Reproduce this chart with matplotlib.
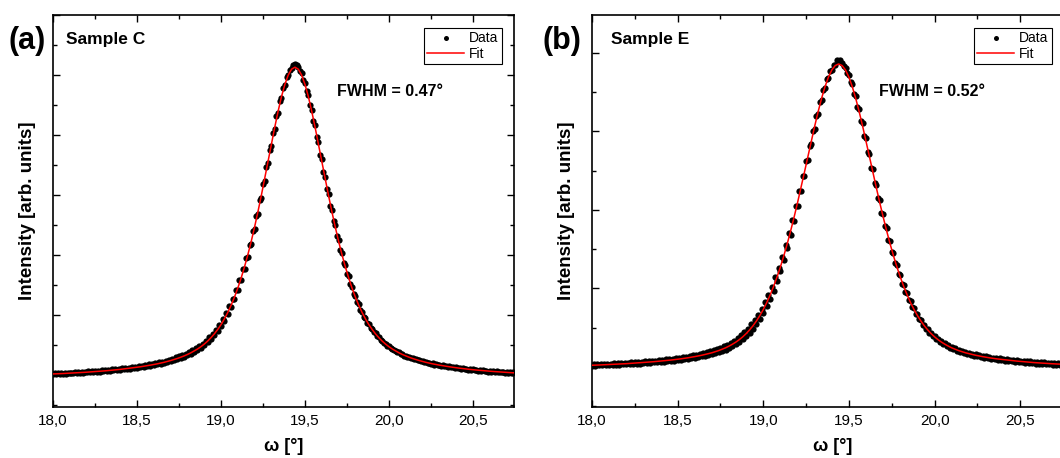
import numpy as np
import matplotlib.pyplot as plt
from matplotlib.ticker import MultipleLocator, FuncFormatter

plt.rcParams['font.family'] = ['Liberation Sans', 'DejaVu Sans']

# omega scan grids [deg]: measured points and fitted curve
omega = np.round(np.arange(18.0, 20.745, 0.01), 2)
omega_fit = np.round(np.arange(18.0, 20.745, 0.02), 2)

# Sample C, measured intensity (arb. units)
data_c = [
    0.010, 0.027, 0.016, 0.030, 0.019, 0.034, 0.021, 0.036, 0.024, 0.040,
    0.027, 0.041, 0.030, 0.046, 0.033, 0.049, 0.036, 0.051, 0.039, 0.056,
    0.042, 0.060, 0.046, 0.063, 0.050, 0.068, 0.054, 0.072, 0.058, 0.077,
    0.062, 0.082, 0.066, 0.087, 0.071, 0.093, 0.076, 0.098, 0.081, 0.104,
    0.087, 0.110, 0.094, 0.117, 0.100, 0.124, 0.107, 0.132, 0.114, 0.140,
    0.121, 0.149, 0.129, 0.158, 0.138, 0.168, 0.147, 0.178, 0.157, 0.189,
    0.167, 0.200, 0.178, 0.212, 0.190, 0.225, 0.203, 0.240, 0.217, 0.256,
    0.232, 0.273, 0.249, 0.292, 0.267, 0.312, 0.287, 0.334, 0.308, 0.358,
    0.332, 0.384, 0.358, 0.413, 0.388, 0.446, 0.420, 0.482, 0.456, 0.524,
    0.498, 0.572, 0.545, 0.626, 0.600, 0.688, 0.662, 0.758, 0.734, 0.838,
    0.812, 0.928, 0.905, 1.030, 1.010, 1.145, 1.128, 1.275, 1.262, 1.420,
    1.412, 1.582, 1.580, 1.760, 1.765, 1.955, 1.968, 2.170, 2.190, 2.400,
    2.430, 2.648, 2.688, 2.910, 2.958, 3.185, 3.240, 3.468, 3.530, 3.755,
    3.820, 4.040, 4.105, 4.315, 4.375, 4.570, 4.620, 4.790, 4.830, 4.965,
    5.000, 5.090, 5.110, 5.160, 5.180,
    5.175, 5.140, 5.060, 5.030, 4.925, 4.870, 4.735, 4.665, 4.505, 4.425,
    4.240, 4.160, 3.960, 3.880, 3.670, 3.595, 3.380, 3.305, 3.095, 3.025,
    2.820, 2.755, 2.560, 2.500, 2.312, 2.258, 2.085, 2.035, 1.875, 1.830,
    1.685, 1.642, 1.510, 1.470, 1.352, 1.316, 1.210, 1.180, 1.084, 1.057,
    0.973, 0.950, 0.874, 0.854, 0.787, 0.771, 0.710, 0.697, 0.643, 0.632,
    0.583, 0.574, 0.531, 0.524, 0.485, 0.480, 0.444, 0.441, 0.409, 0.407,
    0.378, 0.376, 0.349, 0.349, 0.323, 0.325, 0.300, 0.303, 0.279, 0.283,
    0.260, 0.265, 0.242, 0.248, 0.226, 0.233, 0.211, 0.218, 0.197, 0.205,
    0.185, 0.193, 0.173, 0.182, 0.163, 0.172, 0.153, 0.162, 0.143, 0.153,
    0.134, 0.144, 0.126, 0.136, 0.118, 0.128, 0.110, 0.121, 0.103, 0.114,
    0.097, 0.108, 0.090, 0.101, 0.084, 0.095, 0.078, 0.090, 0.073, 0.085,
    0.068, 0.079, 0.063, 0.075, 0.058, 0.070, 0.054, 0.066, 0.050, 0.062,
    0.046, 0.058, 0.042, 0.054, 0.038, 0.051, 0.035, 0.047, 0.031, 0.044]

# Sample C, fitted curve
fit_c = [
    0.018, 0.020, 0.023, 0.025, 0.028, 0.031, 0.034, 0.037, 0.040, 0.044,
    0.047, 0.051, 0.055, 0.059, 0.063, 0.068, 0.072, 0.078, 0.083, 0.088,
    0.094, 0.101, 0.107, 0.114, 0.121, 0.129, 0.137, 0.146, 0.155, 0.165,
    0.175, 0.186, 0.198, 0.211, 0.226, 0.241, 0.258, 0.276, 0.296, 0.318,
    0.342, 0.369, 0.400, 0.433, 0.471, 0.515, 0.564, 0.621, 0.685, 0.758,
    0.840, 0.935, 1.041, 1.162, 1.297, 1.449, 1.618, 1.804, 2.007, 2.228,
    2.468, 2.723, 2.992, 3.272, 3.560, 3.848, 4.130, 4.397, 4.639, 4.842,
    4.998, 5.097, 5.130,
    5.097, 4.998, 4.842, 4.639, 4.397, 4.130, 3.848, 3.560, 3.272, 2.992,
    2.723, 2.468, 2.228, 2.007, 1.804, 1.618, 1.449, 1.297, 1.162, 1.041,
    0.935, 0.840, 0.758, 0.685, 0.621, 0.564, 0.515, 0.471, 0.433, 0.400,
    0.369, 0.342, 0.318, 0.296, 0.276, 0.258, 0.241, 0.226, 0.211, 0.198,
    0.186, 0.175, 0.165, 0.155, 0.146, 0.137, 0.129, 0.121, 0.114, 0.107,
    0.101, 0.094, 0.088, 0.083, 0.078, 0.072, 0.068, 0.063, 0.059, 0.055,
    0.051, 0.047, 0.044, 0.040, 0.037]

# Sample E, measured intensity (arb. units)
data_e = [
    0.014, 0.032, 0.017, 0.033, 0.019, 0.036, 0.020, 0.038, 0.022, 0.040,
    0.024, 0.042, 0.026, 0.045, 0.028, 0.047, 0.030, 0.049, 0.032, 0.052,
    0.034, 0.055, 0.037, 0.058, 0.039, 0.060, 0.041, 0.063, 0.044, 0.066,
    0.047, 0.070, 0.050, 0.074, 0.053, 0.078, 0.057, 0.082, 0.061, 0.086,
    0.064, 0.091, 0.068, 0.096, 0.072, 0.101, 0.076, 0.106, 0.080, 0.112,
    0.085, 0.118, 0.091, 0.124, 0.097, 0.131, 0.103, 0.139, 0.110, 0.147,
    0.118, 0.156, 0.126, 0.165, 0.134, 0.176, 0.143, 0.187, 0.153, 0.199,
    0.164, 0.213, 0.177, 0.228, 0.190, 0.245, 0.205, 0.264, 0.222, 0.285,
    0.243, 0.309, 0.266, 0.336, 0.292, 0.367, 0.321, 0.403, 0.355, 0.444,
    0.393, 0.490, 0.438, 0.543, 0.488, 0.602, 0.546, 0.668, 0.613, 0.742,
    0.688, 0.826, 0.773, 0.920, 0.868, 1.025, 0.974, 1.140, 1.092, 1.266,
    1.222, 1.402, 1.363, 1.550, 1.518, 1.710, 1.684, 1.878, 1.860, 2.055,
    2.045, 2.240, 2.238, 2.430, 2.436, 2.625, 2.638, 2.820, 2.840, 3.012,
    3.035, 3.198, 3.222, 3.372, 3.395, 3.530, 3.552, 3.665, 3.680, 3.770,
    3.785, 3.850, 3.845, 3.905, 3.895,
    3.915, 3.875, 3.830, 3.810, 3.745, 3.722, 3.628, 3.604, 3.480, 3.455,
    3.312, 3.288, 3.130, 3.105, 2.938, 2.912, 2.740, 2.715, 2.540, 2.516,
    2.345, 2.320, 2.152, 2.128, 1.966, 1.944, 1.790, 1.768, 1.622, 1.602,
    1.465, 1.446, 1.320, 1.302, 1.185, 1.170, 1.062, 1.048, 0.950, 0.938,
    0.849, 0.838, 0.758, 0.750, 0.676, 0.671, 0.605, 0.601, 0.541, 0.539,
    0.485, 0.485, 0.436, 0.437, 0.393, 0.395, 0.355, 0.359, 0.322, 0.327,
    0.293, 0.300, 0.268, 0.276, 0.245, 0.254, 0.225, 0.236, 0.207, 0.219,
    0.192, 0.205, 0.178, 0.191, 0.165, 0.180, 0.154, 0.169, 0.144, 0.159,
    0.134, 0.150, 0.126, 0.142, 0.118, 0.134, 0.110, 0.127, 0.103, 0.120,
    0.097, 0.114, 0.091, 0.109, 0.086, 0.103, 0.080, 0.098, 0.076, 0.094,
    0.071, 0.089, 0.067, 0.085, 0.063, 0.081, 0.059, 0.077, 0.055, 0.073,
    0.051, 0.070, 0.048, 0.066, 0.044, 0.063, 0.041, 0.060, 0.038, 0.057,
    0.036, 0.055, 0.033, 0.052, 0.031, 0.050, 0.028, 0.047, 0.026, 0.045]

# Sample E, fitted curve
fit_e = [
    0.022, 0.023, 0.025, 0.027, 0.029, 0.031, 0.033, 0.035, 0.037, 0.040,
    0.042, 0.045, 0.047, 0.050, 0.053, 0.056, 0.060, 0.063, 0.067, 0.071,
    0.075, 0.079, 0.084, 0.088, 0.093, 0.099, 0.104, 0.110, 0.117, 0.124,
    0.132, 0.140, 0.149, 0.159, 0.170, 0.181, 0.195, 0.209, 0.226, 0.244,
    0.266, 0.290, 0.317, 0.348, 0.384, 0.425, 0.472, 0.525, 0.586, 0.655,
    0.732, 0.819, 0.917, 1.025, 1.145, 1.275, 1.417, 1.571, 1.736, 1.910,
    2.093, 2.284, 2.479, 2.677, 2.875, 3.067, 3.250, 3.419, 3.568, 3.691,
    3.783, 3.840, 3.860,
    3.840, 3.783, 3.691, 3.568, 3.419, 3.250, 3.067, 2.875, 2.677, 2.479,
    2.284, 2.093, 1.910, 1.736, 1.571, 1.417, 1.275, 1.145, 1.025, 0.917,
    0.819, 0.732, 0.655, 0.586, 0.525, 0.472, 0.425, 0.384, 0.348, 0.317,
    0.290, 0.266, 0.244, 0.226, 0.209, 0.195, 0.181, 0.170, 0.159, 0.149,
    0.140, 0.132, 0.124, 0.117, 0.110, 0.104, 0.099, 0.093, 0.088, 0.084,
    0.079, 0.075, 0.071, 0.067, 0.063, 0.060, 0.056, 0.053, 0.050, 0.047,
    0.045, 0.042, 0.040, 0.037, 0.035]

# letter, sample, fwhm, data, fit, ylim, axes rect (px), xmax, text positions
panels = [
    ("(a)", "Sample C", "FWHM = 0.47°", data_c, fit_c, (-0.533, 6.0),
     (53, 461), 20.744, 0.028, 0.616, 9, 12),
    ("(b)", "Sample E", "FWHM = 0.52°", data_e, fit_e, (-0.51, 4.484),
     (592, 482), 20.814, 0.040, 0.595, 543, 22),
]

comma = FuncFormatter(lambda v, p: f"{v:.1f}".replace('.', ','))

fig = plt.figure(figsize=(10.6, 4.58), dpi=100)

for (letter, name, fwhm, dat, fit, ylim, rect, xmax,
     name_x, fwhm_x, letter_px, leg_gap) in panels:
    ax = fig.add_axes([rect[0] / 1060, 1 - 407 / 458, rect[1] / 1060, 392 / 458])

    ax.plot(omega, dat, 'o', color='k', ms=4.5, mew=0, label='Data', zorder=2)
    ax.plot(omega_fit, fit, '-', color='red', lw=1.1, label='Fit', zorder=3)

    ax.set_xlim(18.0, xmax)
    ax.set_ylim(*ylim)
    ax.xaxis.set_major_locator(MultipleLocator(0.5))
    ax.xaxis.set_minor_locator(MultipleLocator(0.25))
    ax.xaxis.set_major_formatter(comma)
    ax.yaxis.set_major_locator(MultipleLocator(1.0))
    ax.yaxis.set_minor_locator(MultipleLocator(0.5))
    ax.tick_params(which='both', direction='in', top=True, right=True,
                   labelleft=False, width=1.0, labelsize=11, pad=5)
    ax.tick_params(which='major', length=5)
    ax.tick_params(which='minor', length=3)
    for s in ax.spines.values():
        s.set_linewidth(1.2)

    ax.set_xlabel("ω [°]", fontsize=13, fontweight='bold', labelpad=7)
    ax.set_ylabel("Intensity [arb. units]", fontsize=13.5, fontweight='bold', labelpad=12)

    ax.text(name_x, 0.937, name, transform=ax.transAxes, fontsize=12.5,
            fontweight='bold', va='center', ha='left')
    ax.text(fwhm_x, 0.806, fwhm, transform=ax.transAxes, fontsize=11.5,
            fontweight='bold', va='center', ha='left')

    leg = ax.legend(loc='upper right',
                    bbox_to_anchor=(1 - leg_gap / rect[1], 1 - 13 / 392),
                    borderaxespad=0, fancybox=False, edgecolor='k', fontsize=10,
                    handlelength=2.6, handletextpad=0.4, borderpad=0.25,
                    labelspacing=0.1, framealpha=1, markerscale=0.8)
    leg.get_frame().set_linewidth(0.8)

    fig.text(letter_px / 1060, 1 - 41 / 458, letter, fontsize=22,
             fontweight='bold', va='center', ha='left')

plt.savefig('out.png', dpi=100)
